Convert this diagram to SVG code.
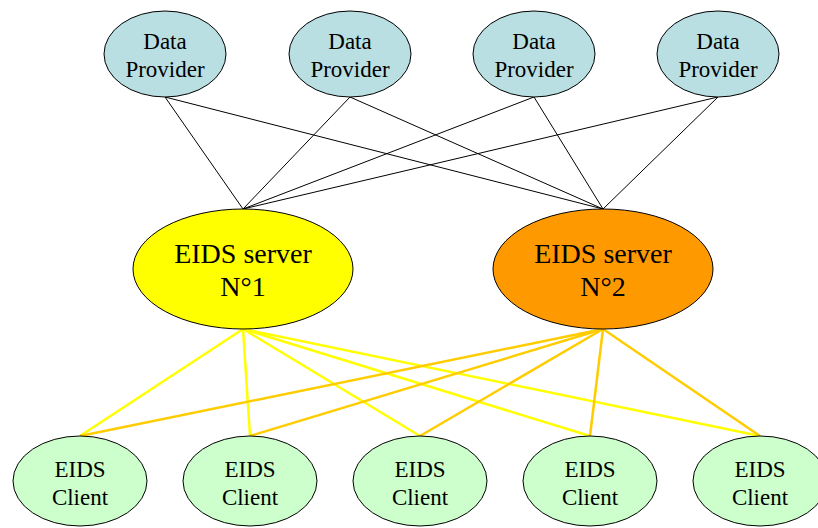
<svg xmlns="http://www.w3.org/2000/svg" width="818" height="528" viewBox="0 0 818 528">
<style>
.t{font-family:"Liberation Serif","Times New Roman",serif;fill:#000;text-anchor:middle}
.dp{fill:#B9DFE2;stroke:#000;stroke-width:1}
.cl{fill:#CCFFCC;stroke:#000;stroke-width:1}
.sv{stroke:#000;stroke-width:1}
.k{stroke:#000;stroke-width:1;fill:none}
.y{stroke:#FFFF00;stroke-width:2.5;fill:none}
.o{stroke:#FFCC00;stroke-width:2.5;fill:none}
.s23{font-size:23px}
.s28{font-size:28px}
</style>
<rect width="818" height="528" fill="#fff"/>
<g id="connectors">
<line class="k" x1="165" y1="97" x2="243" y2="209"/>
<line class="k" x1="165" y1="97" x2="603" y2="209"/>
<line class="k" x1="350" y1="97" x2="243" y2="209"/>
<line class="k" x1="350" y1="97" x2="603" y2="209"/>
<line class="k" x1="534" y1="97" x2="243" y2="209"/>
<line class="k" x1="534" y1="97" x2="603" y2="209"/>
<line class="k" x1="718" y1="97" x2="243" y2="209"/>
<line class="k" x1="718" y1="97" x2="603" y2="209"/>
<line class="y" x1="243" y1="329" x2="80" y2="436"/>
<line class="y" x1="243" y1="329" x2="250" y2="436"/>
<line class="y" x1="243" y1="329" x2="420" y2="436"/>
<line class="y" x1="243" y1="329" x2="590" y2="436"/>
<line class="y" x1="243" y1="329" x2="760" y2="436"/>
<line class="o" x1="603" y1="329" x2="80" y2="436"/>
<line class="o" x1="603" y1="329" x2="250" y2="436"/>
<line class="o" x1="603" y1="329" x2="420" y2="436"/>
<line class="o" x1="603" y1="329" x2="590" y2="436"/>
<line class="o" x1="603" y1="329" x2="760" y2="436"/>
</g>
<g id="dp1"><ellipse class="dp" cx="165" cy="54" rx="61" ry="43"/><text class="t s23" x="165" y="49">Data</text><text class="t s23" x="165" y="77">Provider</text></g>
<g id="dp2"><ellipse class="dp" cx="350" cy="54" rx="61" ry="43"/><text class="t s23" x="350" y="49">Data</text><text class="t s23" x="350" y="77">Provider</text></g>
<g id="dp3"><ellipse class="dp" cx="534" cy="54" rx="61" ry="43"/><text class="t s23" x="534" y="49">Data</text><text class="t s23" x="534" y="77">Provider</text></g>
<g id="dp4"><ellipse class="dp" cx="718" cy="54" rx="61" ry="43"/><text class="t s23" x="718" y="49">Data</text><text class="t s23" x="718" y="77">Provider</text></g>
<g id="server1"><ellipse class="sv" fill="#FFFF00" cx="243" cy="269" rx="110" ry="60"/><text class="t s28" x="243" y="263">EIDS server</text><text class="t s28" x="243" y="296">N°1</text></g>
<g id="server2"><ellipse class="sv" fill="#FF9900" cx="603" cy="269" rx="110" ry="60"/><text class="t s28" x="603" y="263">EIDS server</text><text class="t s28" x="603" y="296">N°2</text></g>
<g id="client1"><ellipse class="cl" cx="80" cy="481" rx="67" ry="45"/><text class="t s23" x="80" y="477">EIDS</text><text class="t s23" x="80" y="505">Client</text></g>
<g id="client2"><ellipse class="cl" cx="250" cy="481" rx="67" ry="45"/><text class="t s23" x="250" y="477">EIDS</text><text class="t s23" x="250" y="505">Client</text></g>
<g id="client3"><ellipse class="cl" cx="420" cy="481" rx="67" ry="45"/><text class="t s23" x="420" y="477">EIDS</text><text class="t s23" x="420" y="505">Client</text></g>
<g id="client4"><ellipse class="cl" cx="590" cy="481" rx="67" ry="45"/><text class="t s23" x="590" y="477">EIDS</text><text class="t s23" x="590" y="505">Client</text></g>
<g id="client5"><ellipse class="cl" cx="760" cy="481" rx="67" ry="45"/><text class="t s23" x="760" y="477">EIDS</text><text class="t s23" x="760" y="505">Client</text></g>
</svg>
